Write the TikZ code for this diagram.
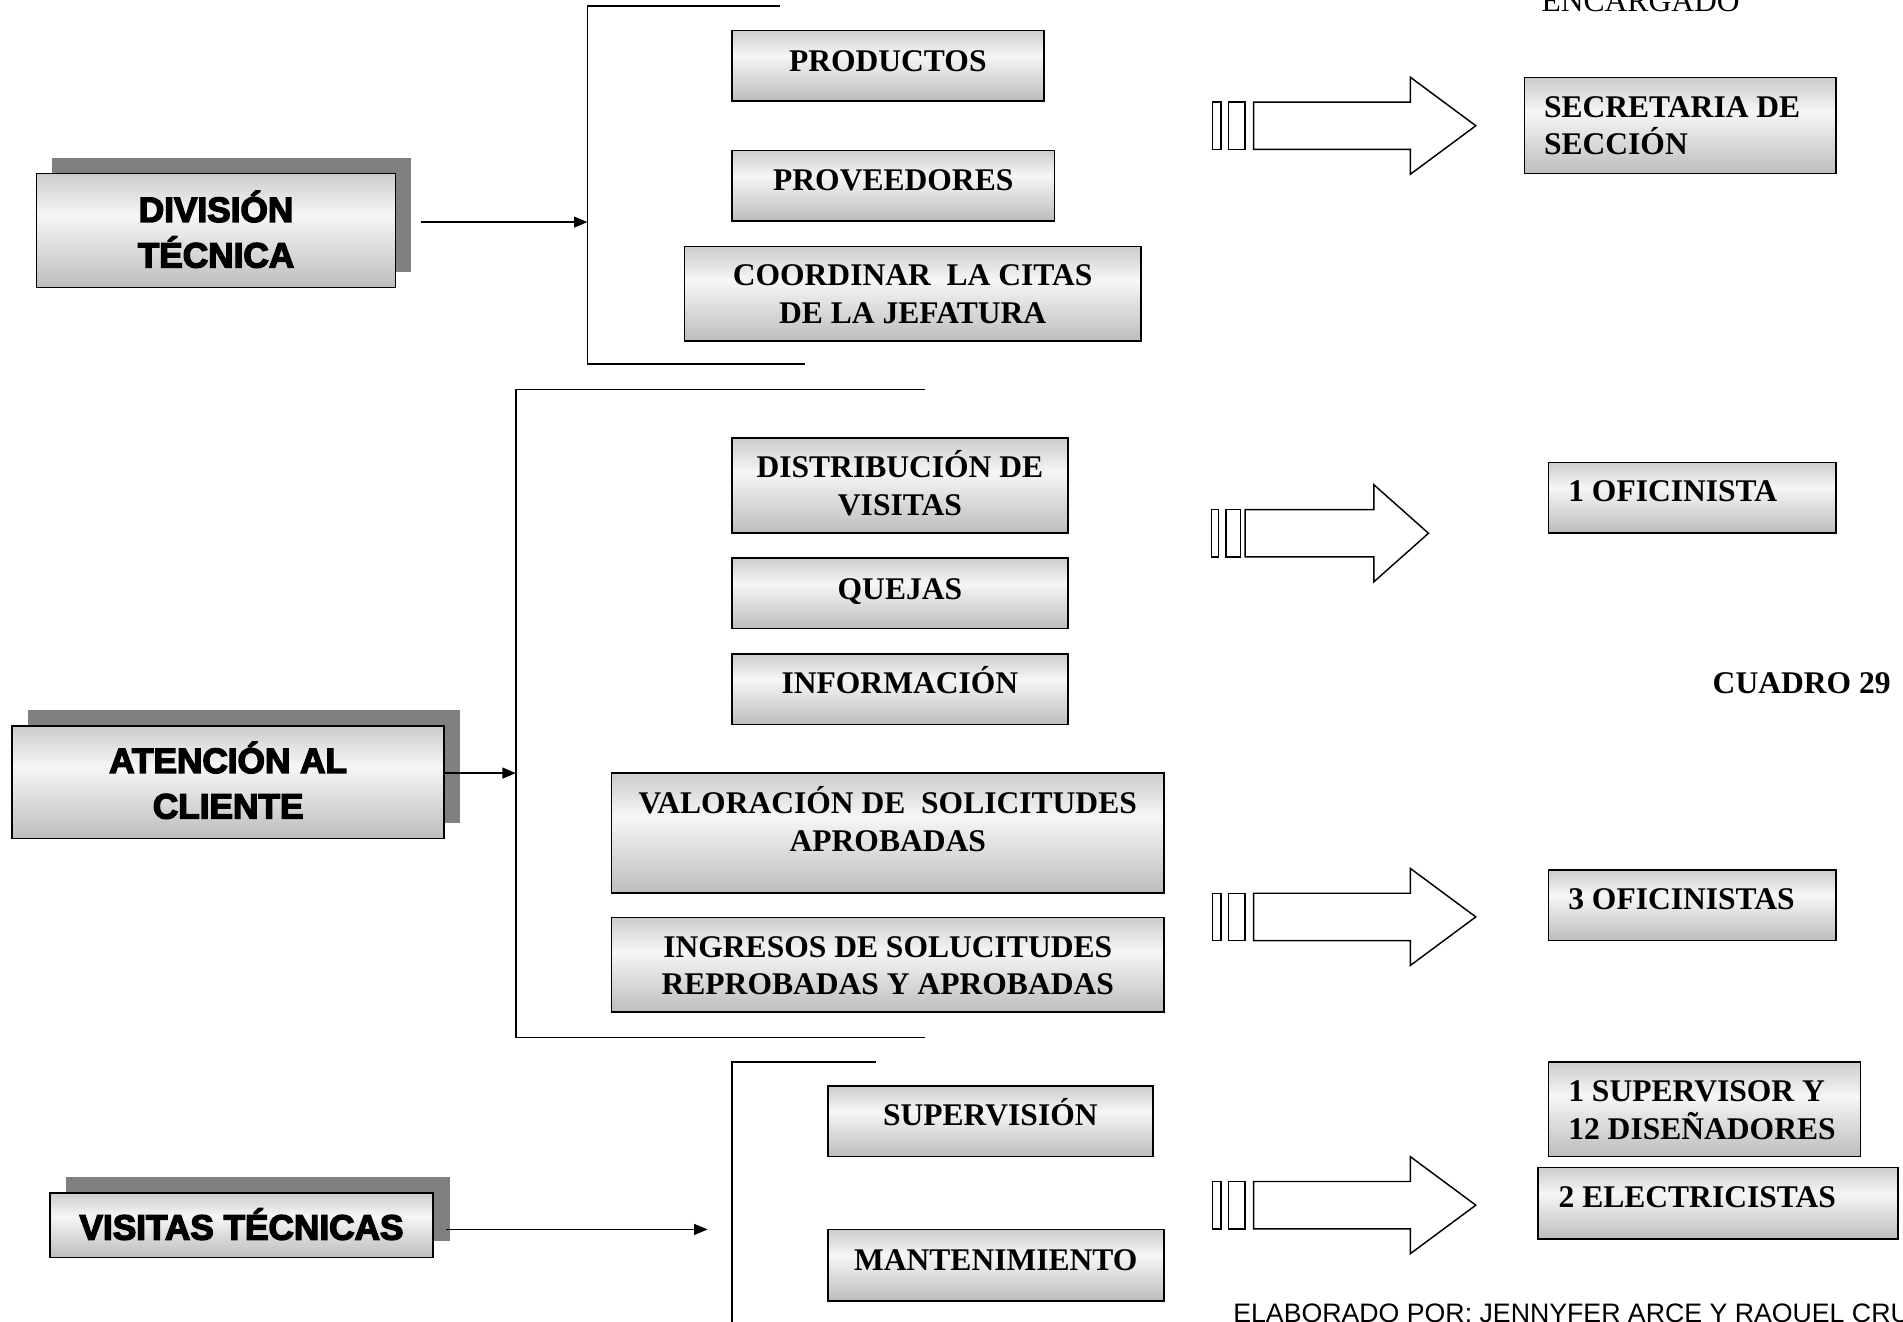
\documentclass[tikz,border=0pt]{standalone}
\usepackage{fontspec}
\setmainfont{Liberation Serif}
\newfontfamily\blkfont{Liberation Sans}[BoldFeatures={FakeBold=4}]
\newfontfamily\arifont{Liberation Sans}
\usetikzlibrary{arrows.meta}
\definecolor{gT}{gray}{0.80}
\definecolor{gW}{gray}{0.965}
\definecolor{gB}{gray}{0.74}
\definecolor{shadowgray}{gray}{0.5}
\pgfdeclareverticalshading{wordgrad}{100bp}{color(0bp)=(gB); color(25bp)=(gB); color(57bp)=(gW); color(75bp)=(gT); color(100bp)=(gT)}
\tikzset{
  gbox/.style={draw=black, line width=1.3pt, shading=wordgrad, inner sep=0pt},
  shbox/.style={fill=shadowgray, draw=none, inner sep=0pt},
  tbf/.style={font=\fontsize{26}{31}\selectfont\bfseries, inner sep=0pt, align=center, anchor=base},
  tbl/.style={font=\fontsize{26}{31}\selectfont\bfseries, inner sep=0pt, align=left, anchor=base west},
  tblk/.style={font=\blkfont\bfseries\fontsize{29}{37.5}\selectfont, inner sep=0pt, align=center, anchor=base},
  conn/.style={line width=1.1pt, -{Triangle[length=11pt,width=9pt]}},
  brk/.style={line width=1.3pt},
  barrow/.style={draw=black, fill=white, line width=1.2pt, line join=miter}
}
\newcommand\blockarrowL[1]{%
  \draw[barrow] (999,#1-19.5) rectangle (1006,#1+19.5);
  \draw[barrow] (1012,#1-19.5) rectangle (1026,#1+19.5);
  \draw[barrow] (1033,#1-19.5) -- (1162,#1-19.5) -- (1162,#1-40) -- (1216,#1) -- (1162,#1+40) -- (1162,#1+19.5) -- (1033,#1+19.5) -- cycle;}
\newcommand\blockarrowS[1]{%
  \draw[barrow] (998,#1-19.5) rectangle (1004,#1+19.5);
  \draw[barrow] (1010,#1-19.5) rectangle (1022,#1+19.5);
  \draw[barrow] (1026,#1-19.5) -- (1132,#1-19.5) -- (1132,#1-40) -- (1177,#1) -- (1132,#1+40) -- (1132,#1+19.5) -- (1026,#1+19.5) -- cycle;}
\begin{document}
\begin{tikzpicture}[x=1pt,y=-1pt]
\useasboundingbox (0,0) rectangle (1568,1089);
\fill[white] (0,0) rectangle (1568,1089);

% ---- left boxes with shadows
\node[shbox, minimum width=296pt, minimum height=94pt] (divsh) at (191,177) {};
\node[gbox, minimum width=296pt, minimum height=94pt] (div) at (178,190) {};
\node[tblk] (tdiv) at (178,220.4) {DIVISIÓN\\TÉCNICA};

\node[shbox, minimum width=356pt, minimum height=93pt] (atensh) at (201,631.5) {};
\node[gbox, minimum width=356pt, minimum height=93pt] (aten) at (188,644.5) {};
\node[tblk] (taten) at (188,674.4) {ATENCIÓN AL\\CLIENTE};

\node[shbox, minimum width=316pt, minimum height=53pt] (vissh) at (212.5,996) {};
\node[gbox, minimum width=316pt, minimum height=53pt] (vis) at (199,1009.5) {};
\node[tblk] (tvis) at (199,1021.4) {VISITAS TÉCNICAS};

% ---- brackets
\coordinate (b1t) at (484,5);
\coordinate (b1m) at (484,183);
\coordinate (b1b) at (484,300);
\draw[brk] (643,5) -- (b1t) -- (b1b) -- (663,300);
\coordinate (b2t) at (425,321);
\coordinate (b2m) at (425,637);
\coordinate (b2b) at (425,855);
\draw[brk] (762,321) -- (b2t) -- (b2b) -- (762,855);
\coordinate (b3t) at (603,875);
\coordinate (b3e) at (583,1013);
\draw[brk] (722,875) -- (b3t) -- (603,1095);

% ---- connectors
\draw[conn] ([xshift=20pt,yshift=7pt]div.east) -- (b1m);
\draw[conn] ([yshift=7.5pt]aten.east) -- (b2m);
\draw[conn] ([xshift=10pt,yshift=-3.5pt]vis.east) -- (b3e);

% ---- middle boxes
\node[gbox, minimum width=257pt, minimum height=58pt] (prod) at (731.5,54) {};
\node[tbf] (tprod) at (731.5,58.6) {PRODUCTOS};
\node[gbox, minimum width=266pt, minimum height=58pt] (prov) at (736,153) {};
\node[tbf] (tprov) at (736,156.6) {PROVEEDORES};
\node[gbox, minimum width=376pt, minimum height=78pt] (coord) at (752,242) {};
\node[tbf] (tcoord) at (752,266.6) {COORDINAR\ \ LA CITAS\\DE LA JEFATURA};

\node[gbox, minimum width=277pt, minimum height=78pt] (dist) at (741.5,400) {};
\node[tbf] (tdist) at (741.5,424.6) {DISTRIBUCIÓN DE\\VISITAS};
\node[gbox, minimum width=277pt, minimum height=58pt] (quej) at (741.5,489) {};
\node[tbf] (tquej) at (741.5,493.6) {QUEJAS};
\node[gbox, minimum width=277pt, minimum height=58pt] (info) at (741.5,568) {};
\node[tbf] (tinfo) at (741.5,571.6) {INFORMACIÓN};
\node[gbox, minimum width=455pt, minimum height=99pt] (valor) at (731.5,686.5) {};
\node[tbf] (tvalor) at (731.5,701.6) {VALORACIÓN DE\ \ SOLICITUDES\\APROBADAS};
\node[gbox, minimum width=455pt, minimum height=78pt] (ingr) at (731.5,795) {};
\node[tbf] (tingr) at (731.5,819.6) {INGRESOS DE SOLUCITUDES\\REPROBADAS Y APROBADAS};

\node[gbox, minimum width=268pt, minimum height=58pt] (superv) at (816,924) {};
\node[tbf] (tsuperv) at (816,927.6) {SUPERVISIÓN};
\node[gbox, minimum width=277pt, minimum height=59pt] (mant) at (820.5,1042.5) {};
\node[tbf] (tmant) at (820.5,1046.6) {MANTENIMIENTO};

% ---- block arrows
\blockarrowL{103.6}
\blockarrowS{439.4}
\blockarrowL{755.5}
\blockarrowL{993}

% ---- right boxes
\node[gbox, minimum width=257pt, minimum height=79pt] (secr) at (1384.5,103.5) {};
\node[tbl] (tsecr) at (1272,127.6) {SECRETARIA DE\\SECCIÓN};
\node[gbox, minimum width=237pt, minimum height=58pt] (ofi1) at (1394.5,410) {};
\node[tbl] (tofi1) at (1292,413.6) {1 OFICINISTA};
\node[gbox, minimum width=237pt, minimum height=58pt] (ofi3) at (1394.5,746) {};
\node[tbl] (tofi3) at (1292,749.6) {3 OFICINISTAS};
\node[gbox, minimum width=257pt, minimum height=78pt] (supd) at (1404.5,914) {};
\node[tbl] (tsupd) at (1292,938.6) {1 SUPERVISOR Y\\12 DISEÑADORES};
\node[gbox, minimum width=297pt, minimum height=59pt] (elec) at (1415.5,991.5) {};
\node[tbl] (telec) at (1284,994.6) {2 ELECTRICISTAS};

% ---- free texts
\node[font=\fontsize{26}{31}\selectfont, inner sep=0pt, anchor=base west] (tenc) at (1270,9.5) {ENCARGADO};
\node[font=\fontsize{26}{31}\selectfont\bfseries, inner sep=0pt, anchor=base west] (tcuad) at (1411,571.6) {CUADRO 29};
\node[font=\arifont\fontsize{22}{26}\selectfont, inner sep=0pt, anchor=base west] (telab) at (1016,1090) {ELABORADO POR: JENNYFER ARCE Y RAQUEL CRUZ};
\end{tikzpicture}
\end{document}
